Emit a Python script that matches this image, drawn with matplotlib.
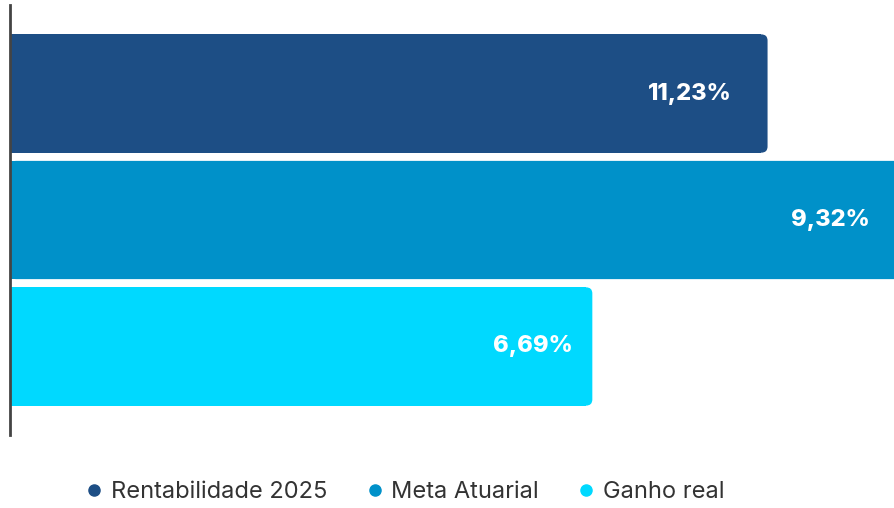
import matplotlib.pyplot as plt
from matplotlib.patches import FancyBboxPatch
from matplotlib.lines import Line2D

plt.rcParams['font.family'] = ['Inter', 'DejaVu Sans']

series = ['Rentabilidade 2025', 'Meta Atuarial', 'Ganho real']
labels = ['11,23%', '9,32%', '6,69%']
# bar lengths as drawn in the picture (share of plot width, %)
lengths = [85.6, 102.0, 65.8]
colors = ['#1d4e85', '#0091c9', '#00d9ff']

fig = plt.figure(figsize=(8.95, 5.08), dpi=100)
ax = fig.add_axes([10/895, 73/508, 885/895, 430/508])
ax.set_xlim(0, 100)
ax.set_ylim(2.7, -0.7)

h = 0.935
r = 0.7  # corner radius in x units
asp = (3.4/430) / (100/885)
for i, (L, c) in enumerate(zip(lengths, colors)):
    ax.barh(i, L - r, height=h, color=c, zorder=2)
    p = FancyBboxPatch((0, i - h/2), L, h,
                       boxstyle='round,pad=0,rounding_size=%g' % r,
                       mutation_aspect=asp, fc=c, ec='none', zorder=2)
    ax.add_patch(p)

pads = [4.0, 4.8, 2.2]
for i, (L, t) in enumerate(zip(lengths, labels)):
    ax.text(L - pads[i], i, t, color='white', fontsize=17, fontweight='heavy',
            ha='right', va='center', zorder=3)

for s in ['top', 'right', 'bottom']:
    ax.spines[s].set_visible(False)
ax.spines['left'].set_color('#444444')
ax.spines['left'].set_linewidth(2)
ax.spines['left'].set_zorder(4)
ax.set_xticks([])
ax.set_yticks([])

handles = [Line2D([], [], marker='o', ls='', color=c, markersize=8) for c in colors]
fig.legend(handles, series, loc='center', bbox_to_anchor=(0.452, 0.031),
           ncol=3, frameon=False, fontsize=17, handlelength=0.8,
           handletextpad=0.3, columnspacing=1.6, labelcolor='#333333')

fig.savefig('out.png', dpi=100)
